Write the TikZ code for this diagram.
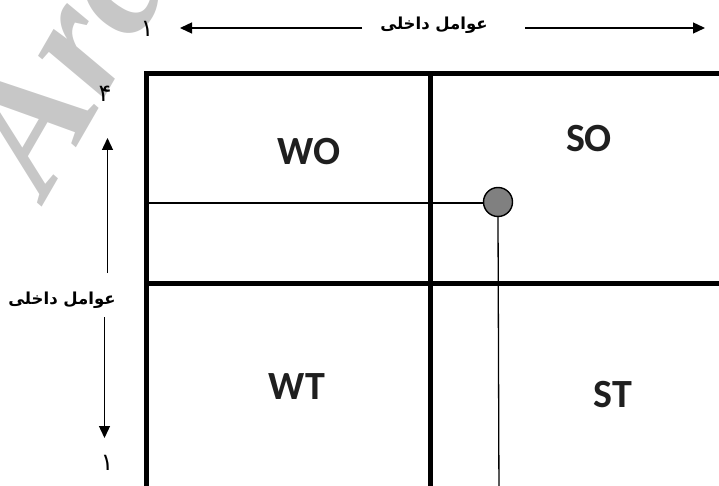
\documentclass[tikz,border=0pt]{standalone}
\usepackage{fontspec}
\usetikzlibrary{arrows.meta}
\TeXXeTstate=1
\newfontfamily\arabicfont[Script=Arabic]{DejaVu Sans}
\newfontfamily\labfont{Carlito}
\newfontfamily\wmfont{Liberation Serif}
\begin{document}
\begin{tikzpicture}[x=1pt,y=-1pt,
  thick box/.style={line width=5pt,line join=miter},
  thin line/.style={line width=1.3pt},
  arr/.style={line width=1.3pt,-{Triangle[length=12pt,width=11pt]}},
  quad/.style={font=\labfont\bfseries\fontsize{40}{40}\selectfont,text=black!88,inner sep=0pt},
  arab/.style={font=\arabicfont\bfseries\fontsize{16.5}{20}\selectfont,inner sep=0pt},
  digit/.style={font=\arabicfont\fontsize{24}{26}\selectfont,inner sep=0pt}]
\useasboundingbox (0,0) rectangle (719,486);
% watermark
\node[text=black!22,rotate=60,font=\wmfont\bfseries\itshape\fontsize{170}{170}\selectfont,anchor=base west,inner sep=0pt] (wm) at (46,200) {Archive};
% grid
\draw[thick box] (146,500) -- (146,73.5) -- (730,73.5);
\draw[thick box] (430,73.5) -- (430,500);
\draw[thick box] (146,283) -- (730,283);
% labels
\node[quad] (wo) at (309,152) {WO};
\node[quad] (so) at (589,139) {SO};
\node[quad] (wt) at (297,387) {WT};
\node[quad] (st) at (613,395) {ST};
% point
\node[circle,draw,line width=1.4pt,fill=black!50,minimum size=29pt,inner sep=0pt] (pt) at (498,202) {};
\coordinate (hl) at (146,203);
\coordinate (vb) at (499,500);
\draw[thin line] (hl) -- (pt.west |- hl);
\draw[thin line] (pt.south) -- (vb);
% top axis
\node[arab] (toptxt) at (434,25) {\beginR عوامل داخلی\endR};
\node[digit] (one1) at (147,29) {١};
\coordinate (ta) at (362,28);
\coordinate (tah) at (180,28);
\coordinate (tb) at (525,28);
\coordinate (tbh) at (705,28);
\draw[arr] (ta) -- (tah);
\draw[arr] (tb) -- (tbh);
% left axis
\node[arab] (lefttxt) at (62,300) {\beginR عوامل داخلی\endR};
\node[digit] (four) at (105,94) {۴};
\node[digit] (one2) at (107,463) {١};
\coordinate (la) at (107.5,273);
\coordinate (lah) at (107.5,138);
\coordinate (lb) at (104.5,317);
\coordinate (lbh) at (104.5,438);
\draw[arr] (la) -- (lah);
\draw[arr] (lb) -- (lbh);
\end{tikzpicture}
\end{document}
